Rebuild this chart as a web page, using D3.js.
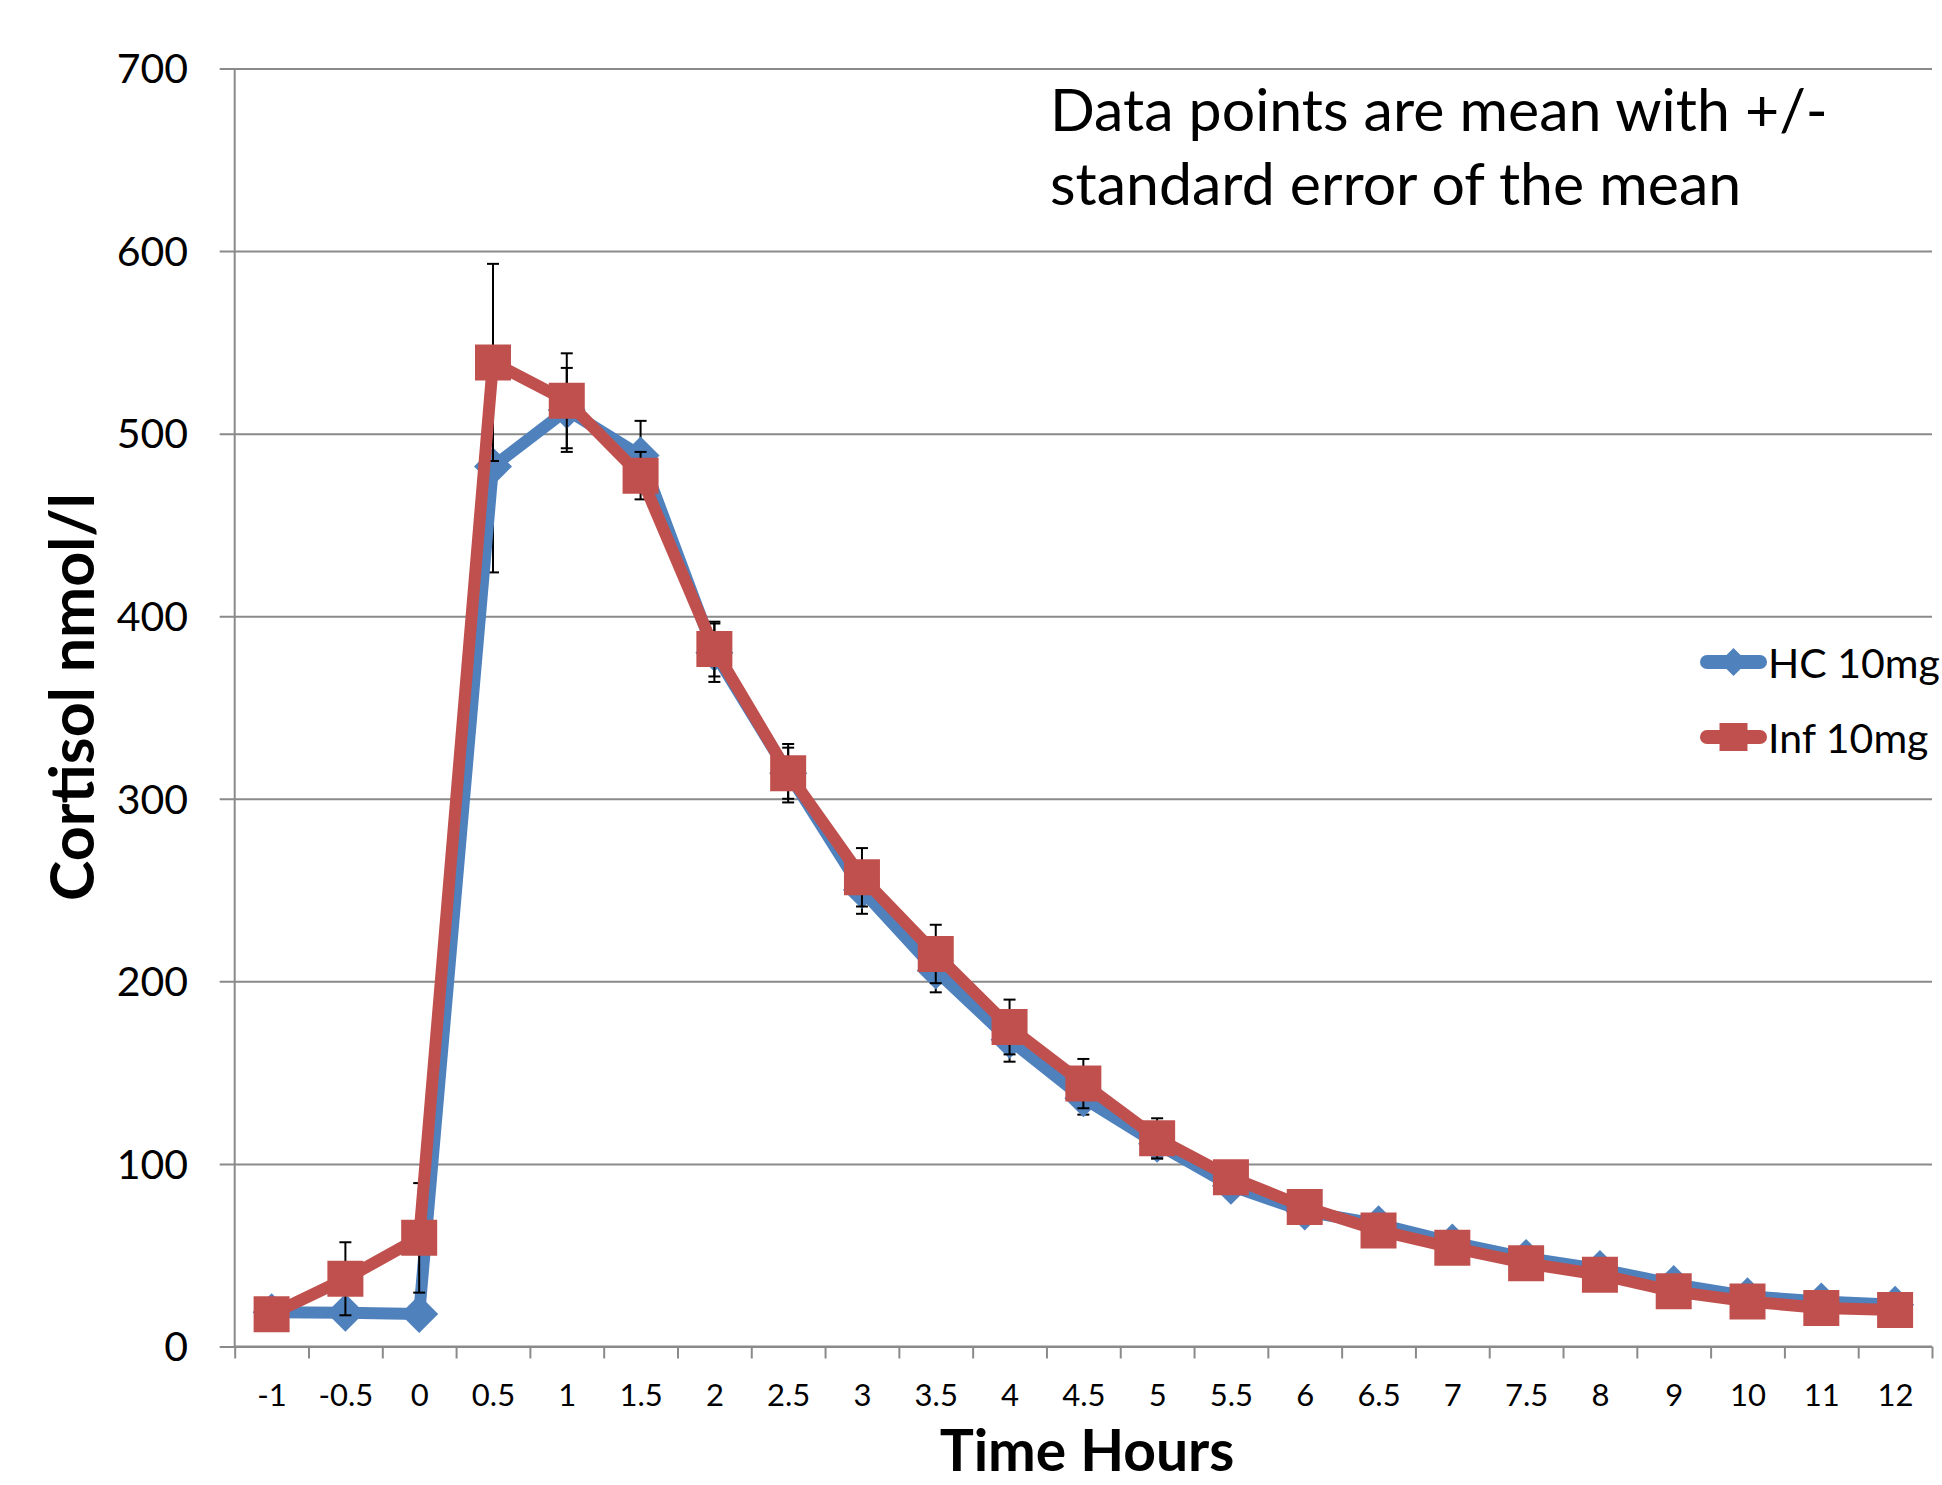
<!DOCTYPE html>
<html>
<head>
<meta charset="utf-8">
<script src="https://cdn.jsdelivr.net/npm/d3@7"></script>
<style>
  html, body { margin: 0; padding: 0; background: #fff; }
  svg { display: block; }
  text { font-family: Lato, "Open Sans", sans-serif; fill: #000; }
</style>
</head>
<body>
<svg id="chart" width="1942" height="1485"></svg>
<script>
// ---- data ----
const categories = ["-1","-0.5","0","0.5","1","1.5","2","2.5","3","3.5","4","4.5","5","5.5","6","6.5","7","7.5","8","9","10","11","12"];
const hcMean = [18.7, 18.5, 17.8, 482, 513, 488, 380, 314, 250, 206, 168, 136, 111, 88, 74, 67, 57, 48.5, 42.4, 34.2, 27.5, 24.7, 22.9];
const hcSE   = [2, 2, 2, 58, 23, 19, 16, 14, 13, 12, 12, 9, 8, 6, 5, 4, 4, 3, 3, 2, 2, 2, 2];
const infMean = [17.7, 37.1, 59.5, 539, 518, 477, 382, 314, 257, 215, 175, 144, 114, 92.7, 76.4, 63.6, 54.1, 45.6, 39.3, 30.2, 24.7, 21.1, 20];
const infSE   = [3, 20, 30, 54, 26, 13, 15, 16, 16, 16, 15, 13.5, 11, 7, 5, 4, 4, 3, 3, 2, 2, 2, 2];
const yTicks = [0, 100, 200, 300, 400, 500, 600, 700];
const seriesNames = ["HC 10mg", "Inf 10mg"];
const annotationLines = ["Data points are mean with +/-", "standard error of the mean"];
const xTitle = "Time Hours";
const yTitle = "Cortisol nmol/l";

// ---- layout ----
const svg = d3.select("#chart");
svg.append("rect").attr("width", 1942).attr("height", 1485).attr("fill", "#fff");
const L = 234.7, R = 1932, T = 68.5, B = 1346.5;
const gridColor = "#8a8a8a";
const blue = "#4F81BD", red = "#C0504D";

const x = d3.scaleLinear().domain([0, categories.length]).range([L, R]);
const xc = i => x(i + 0.5);
const y = d3.scaleLinear().domain([0, 700]).range([B, T]);

// gridlines + y ticks
const yAxisG = svg.append("g").attr("transform", `translate(${L},0)`)
  .call(d3.axisLeft(y).tickValues(yTicks).tickSize(15).tickFormat(""));
yAxisG.select(".domain").remove();
yAxisG.selectAll(".tick line").attr("stroke", gridColor).attr("stroke-width", 2)
  .attr("x1", -15).attr("x2", R - L);
// y labels
svg.append("g").selectAll("text").data(yTicks).join("text")
  .attr("x", 188).attr("y", d => y(d)).attr("dy", "0.36em")
  .attr("text-anchor", "end").style("font-size", "41px").text(d => d);

// y axis line
svg.append("line").attr("x1", L).attr("x2", L).attr("y1", T).attr("y2", B)
  .attr("stroke", gridColor).attr("stroke-width", 2);

// x axis ticks (between categories)
const xAxisG = svg.append("g").attr("transform", `translate(0,${B})`)
  .call(d3.axisBottom(x).tickValues(d3.range(0, categories.length + 1)).tickSize(12).tickFormat(""));
xAxisG.select(".domain").attr("stroke", gridColor).attr("stroke-width", 2).attr("d", `M${L},0H${R}`);
xAxisG.selectAll(".tick line").attr("stroke", gridColor).attr("stroke-width", 2);
// x labels
const xLab = svg.append("g").attr("transform", `translate(0,${B})`)
  .call(d3.axisBottom(x).tickValues(d3.range(0, categories.length).map(i => i + 0.5))
    .tickSize(0).tickPadding(0).tickFormat(d => categories[Math.floor(d)]));
xLab.select(".domain").remove();
xLab.selectAll(".tick text").attr("y", 59).attr("dy", 0).style("font-size", "31px")
  .style("font-family", "Lato").attr("fill", "#000");

// axis titles
svg.append("text").attr("x", 1087).attr("y", 1471).attr("text-anchor", "middle")
  .style("font-size", "57px").style("font-weight", "bold").text(xTitle);
svg.append("text").attr("transform", "translate(94,697) rotate(-90)").attr("text-anchor", "middle")
  .style("font-size", "61px").style("font-weight", "bold").text(yTitle);

// annotation
svg.append("g").selectAll("text").data(annotationLines).join("text")
  .attr("x", 1050).attr("y", (d, i) => 131 + i * 74).style("font-size", "59px").text(d => d);

// ---- series ----
function diamondPath(r) { return `M0,${-r}L${r},0L0,${r}L${-r},0Z`; }
function drawSeries(means, ses, color, shape) {
  const g = svg.append("g");
  // error bars
  const eb = g.append("g").attr("stroke", "#000").attr("stroke-width", 2);
  means.forEach((m, i) => {
    const cx = xc(i), y1 = y(m + ses[i]), y0 = y(m - ses[i]);
    eb.append("line").attr("x1", cx).attr("x2", cx).attr("y1", y1).attr("y2", y0);
    eb.append("line").attr("x1", cx - 6).attr("x2", cx + 6).attr("y1", y1).attr("y2", y1);
    eb.append("line").attr("x1", cx - 6).attr("x2", cx + 6).attr("y1", y0).attr("y2", y0);
  });
  // line
  const line = d3.line().x((d, i) => xc(i)).y(d => y(d));
  g.append("path").datum(means).attr("d", line).attr("fill", "none")
    .attr("stroke", color).attr("stroke-width", 12).attr("stroke-linejoin", "round");
  // markers
  g.append("g").selectAll("path").data(means).join("path")
    .attr("transform", (d, i) => `translate(${xc(i)},${y(d)})`)
    .attr("d", shape === "diamond" ? diamondPath(19) : "M-18,-18H18V18H-18Z")
    .attr("fill", color);
}
drawSeries(hcMean, hcSE, blue, "diamond");
drawSeries(infMean, infSE, red, "square");

// ---- legend ----
const legend = svg.append("g");
const legendItems = [
  { name: seriesNames[0], color: blue, shape: "diamond", y: 662 },
  { name: seriesNames[1], color: red, shape: "square", y: 737 }
];
legendItems.forEach(it => {
  legend.append("line").attr("x1", 1707).attr("x2", 1760).attr("y1", it.y).attr("y2", it.y)
    .attr("stroke", it.color).attr("stroke-width", 14).attr("stroke-linecap", "round");
  legend.append("path").attr("transform", `translate(1733.5,${it.y})`)
    .attr("d", it.shape === "diamond" ? diamondPath(14) : "M-14,-14H14V14H-14Z")
    .attr("fill", it.color);
  legend.append("text").attr("x", 1768).attr("y", it.y + 16).style("font-size", "41px").text(it.name);
});
</script>
</body>
</html>
